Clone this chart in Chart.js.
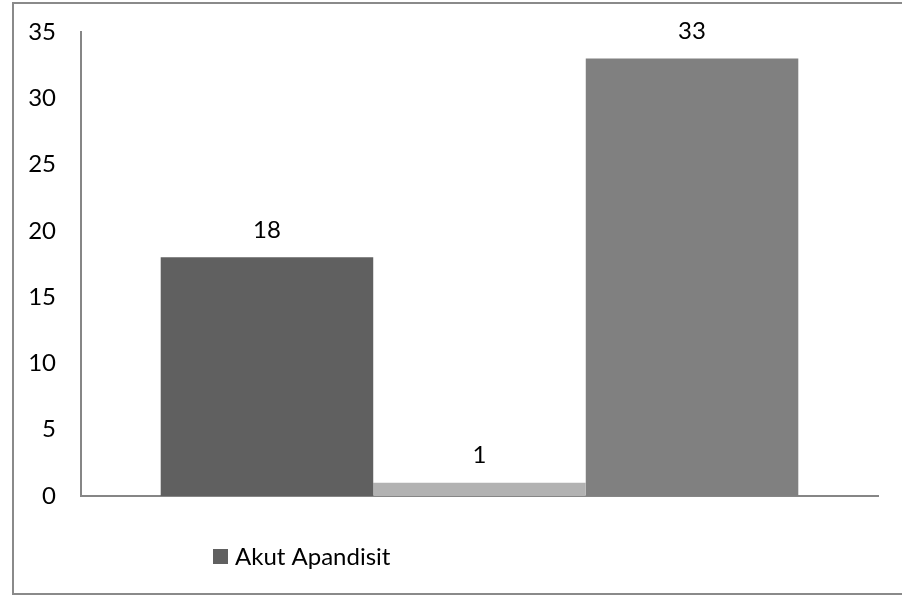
<!DOCTYPE html>
<html>
<head>
<meta charset="utf-8">
<script src="https://cdn.jsdelivr.net/npm/chart.js@4/dist/chart.umd.min.js"></script>
<style>
  html, body { margin: 0; padding: 0; background: #ffffff; }
  #wrap { position: relative; width: 902px; height: 596px; }
</style>
</head>
<body>
<div id="wrap"><canvas id="chart" width="902" height="596"></canvas></div>
<script>
// Series names, one bar per series in a single group
const seriesNames = ['Akut Apandisit', 'Kronik Apandisit', 'Perforasi'];
const seriesValues = [18, 1, 33];
const seriesColors = ['#606060', '#b2b2b2', '#808080'];
const categories = [''];
const yTicks = [0, 5, 10, 15, 20, 25, 30, 35];

const FONT = 'Lato, "Open Sans", sans-serif';
const FONT_SIZE = 24;

// Outer frame (left, top, bottom edges)
const framePlugin = {
  id: 'frame',
  beforeDraw(chart) {
    const ctx = chart.ctx;
    ctx.save();
    ctx.strokeStyle = '#8a8a8a';
    ctx.lineWidth = 2;
    ctx.beginPath();
    ctx.moveTo(chart.width + 2, 3);
    ctx.lineTo(13, 3);
    ctx.lineTo(13, 594);
    ctx.lineTo(chart.width + 2, 594);
    ctx.stroke();
    ctx.restore();
  }
};

// Value labels above each bar
const valueLabels = {
  id: 'valueLabels',
  afterDatasetsDraw(chart) {
    const ctx = chart.ctx;
    ctx.save();
    ctx.font = FONT_SIZE + 'px ' + FONT;
    ctx.fillStyle = '#000000';
    ctx.textAlign = 'center';
    ctx.textBaseline = 'middle';
    chart.data.datasets.forEach((ds, i) => {
      const meta = chart.getDatasetMeta(i);
      meta.data.forEach((el, j) => {
        ctx.fillText(String(ds.data[j]), el.x, el.y - 27);
      });
    });
    ctx.restore();
  }
};

// Legend entry for the first series only, below the plot
const legendFirst = {
  id: 'legendFirst',
  afterDraw(chart) {
    const ctx = chart.ctx;
    const ds = chart.data.datasets[0];
    const x = chart.chartArea.left + 132;
    const y = chart.chartArea.bottom + 61;
    ctx.save();
    ctx.fillStyle = ds.backgroundColor;
    ctx.fillRect(x, y - 8, 15, 15);
    ctx.font = FONT_SIZE + 'px ' + FONT;
    ctx.fillStyle = '#000000';
    ctx.textAlign = 'left';
    ctx.textBaseline = 'middle';
    ctx.fillText(ds.label, x + 22, y);
    ctx.restore();
  }
};

new Chart(document.getElementById('chart'), {
  type: 'bar',
  data: {
    labels: categories,
    datasets: seriesNames.map((name, i) => ({
      label: name,
      data: [seriesValues[i]],
      backgroundColor: seriesColors[i],
      borderWidth: 0,
      categoryPercentage: 0.8,
      barPercentage: 1.0
    }))
  },
  options: {
    responsive: false,
    animation: false,
    layout: { padding: { left: 0, right: 24, top: 32, bottom: 100 } },
    plugins: {
      legend: { display: false },
      tooltip: { enabled: false }
    },
    scales: {
      x: {
        grid: { display: false, drawTicks: false },
        border: { display: true, color: '#868686', width: 2 },
        ticks: { display: false }
      },
      y: {
        min: 0,
        max: 35,
        afterFit(scale) {
          scale.width = 81;
          scale.paddingTop = 0;
          scale.paddingBottom = 0;
        },
        afterBuildTicks(scale) { scale.ticks = yTicks.map(v => ({ value: v })); },
        grid: { display: false, drawTicks: false },
        border: { display: true, color: '#868686', width: 2 },
        ticks: {
          padding: 25,
          color: '#000000',
          font: { family: FONT, size: FONT_SIZE }
        }
      }
    }
  },
  plugins: [framePlugin, valueLabels, legendFirst]
});
</script>
</body>
</html>
